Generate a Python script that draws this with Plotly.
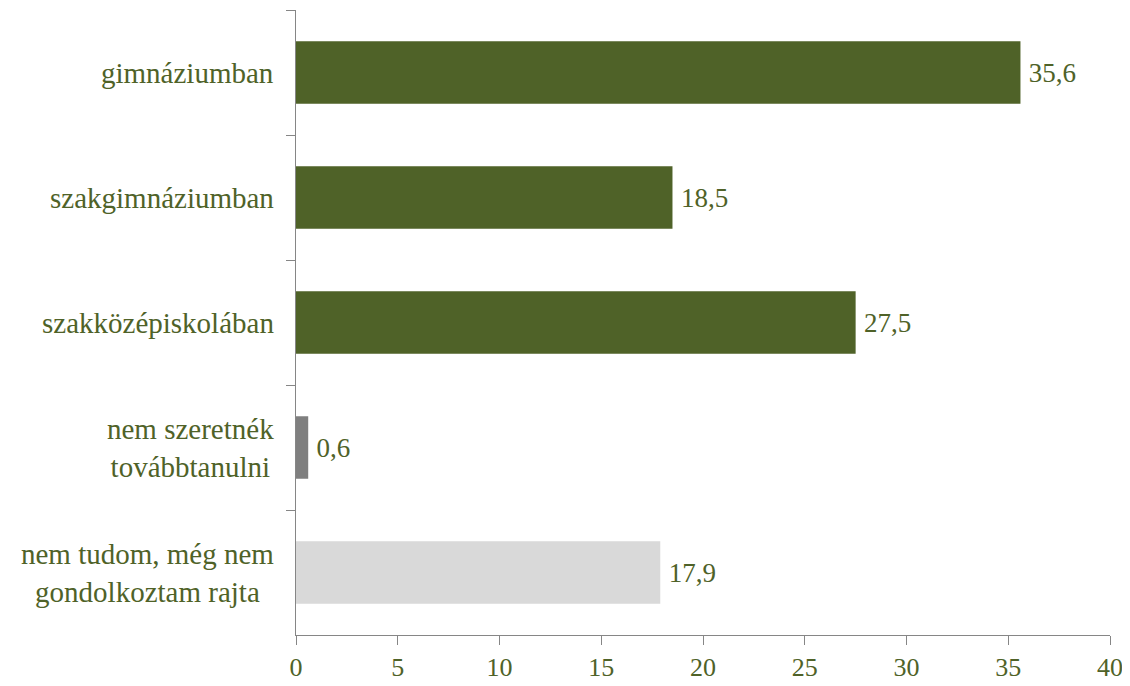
import plotly.graph_objects as go

categories = ["gimnáziumban", "szakgimnáziumban", "szakközépiskolában",
              "nem szeretnék<br>továbbtanulni", "nem tudom, még nem<br>gondolkoztam rajta"]
values = [35.6, 18.5, 27.5, 0.6, 17.9]
value_labels = ["35,6", "18,5", "27,5", "0,6", "17,9"]
bar_colors = ["#4F6228", "#4F6228", "#4F6228", "#7F7F7F", "#D9D9D9"]
x_ticks = [0, 5, 10, 15, 20, 25, 30, 35, 40]

FONT = "'Liberation Serif', 'DejaVu Serif', serif"
TXT = "#4F6228"
AX = "#868686"

fig = go.Figure(go.Bar(
    y=categories, x=values, orientation="h",
    marker=dict(color=bar_colors, line=dict(width=0)),
    text=value_labels, texttemplate="\u2009%{text}",
    textposition="outside", cliponaxis=False,
    textfont=dict(family=FONT, size=27, color=TXT),
))

for c in categories:
    fig.add_annotation(x=0, xref="paper", y=c, yref="y", text=c,
                       xanchor="right", yanchor="middle", align="center",
                       showarrow=False, xshift=-20,
                       font=dict(family=FONT, size=29, color=TXT))

# page body has an 8px margin, so the figure is sized/offset to compensate
fig.update_layout(
    width=1122, height=678,
    margin=dict(l=288, r=20, t=2, b=51, autoexpand=False),
    plot_bgcolor="white", paper_bgcolor="white",
    bargap=0.5, showlegend=False,
    font=dict(family=FONT, size=27, color=TXT),
)
fig.update_traces(textangle=0, constraintext="none")
fig.update_xaxes(range=[0, 40], tickvals=x_ticks, ticktext=[str(v) for v in x_ticks],
                 showgrid=False, zeroline=False, showline=True, linecolor=AX, linewidth=1,
                 ticks="outside", ticklen=9, tickcolor=AX, automargin=False,
                 tickfont=dict(family=FONT, size=26, color=TXT))
fig.update_yaxes(autorange="reversed", showgrid=False, zeroline=False,
                 showline=True, linecolor=AX, linewidth=1, automargin=False,
                 ticks="outside", ticklen=9, tickcolor=AX, tickson="boundaries",
                 showticklabels=False)

fig.write_html("out.html")
